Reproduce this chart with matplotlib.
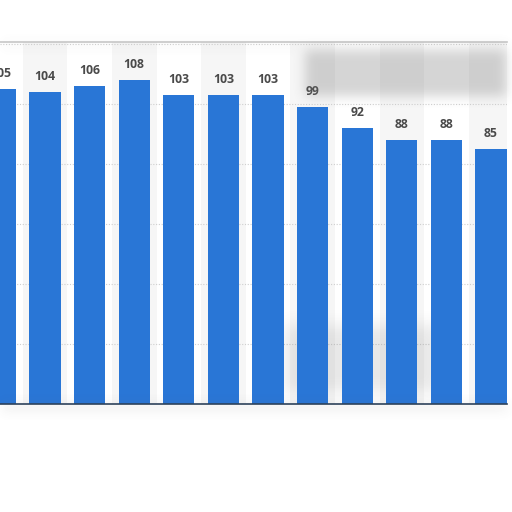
import numpy as np
import matplotlib
matplotlib.use("Agg")
import matplotlib.pyplot as plt

# values (first bar is cut at the left edge)
values = [105, 104, 106, 108, 103, 103, 103, 99, 92, 88, 88, 85]
labels = [str(v) for v in values]
grid_ticks = [20, 40, 60, 80, 100, 120]

bar_color = '#2976d6'
W = H = 512

fig = plt.figure(figsize=(5.12, 5.12), dpi=100)
fig.patch.set_facecolor('white')

# axes placed in pixel coordinates of the picture
ax_left, ax_right, ax_bottom, ax_top = 0, 507, 512 - 404, 512 - 42
ax = fig.add_axes([ax_left / W, ax_bottom / H, (ax_right - ax_left) / W, (ax_top - ax_bottom) / H])

pitch = 44.6
x0 = -0.4 / pitch
x1 = x0 + (ax_right - ax_left) / pitch
y1 = (ax_top - ax_bottom) / 3.0
x = np.arange(len(values))

# alternating column bands
for i in x:
    if i % 2 == 1:
        ax.axvspan(i - 0.5, i + 0.5, color='#f6f6f6', zorder=0, lw=0)

for g in grid_ticks:
    ax.axhline(g, color='#cfcfcf', lw=0.8, ls=(0, (1, 1.5)), zorder=1)

ax.bar(x, values, width=0.7, color=bar_color, zorder=2)
for xi, v, lab in zip(x, values, labels):
    ax.annotate(lab, (xi, v), xytext=(0, 6.5), textcoords='offset points',
                ha='center', va='bottom', fontsize=8.8, fontweight='bold',
                color='#4a4a4a', family=['Open Sans', 'DejaVu Sans'])

ax.set_xticks([])
ax.set_yticks([])
for s in ['left', 'right']:
    ax.spines[s].set_visible(False)
ax.spines['top'].set_color('#c8c8c8')
ax.spines['top'].set_linewidth(1.2)
ax.spines['bottom'].set_color('#2a3f5a')
ax.spines['bottom'].set_linewidth(1.2)


def blur(a, r):
    k = np.ones(2 * r + 1) / (2 * r + 1)
    for _ in range(3):
        a = np.apply_along_axis(lambda m: np.convolve(m, k, mode='same'), 0, a)
        a = np.apply_along_axis(lambda m: np.convolve(m, k, mode='same'), 1, a)
    return a


def grey_layer(alpha, level):
    rgba = np.zeros((H, W, 4))
    rgba[..., :3] = level
    rgba[..., 3] = np.clip(alpha, 0, 1)
    return rgba


# soft grey shadow in the lower gaps, behind the bars
soft = np.zeros((H, W))
soft[325:392, 285:440] = 0.16
ax.imshow(grey_layer(blur(soft, 7), 0.45),
          extent=[x0, x0 + W / pitch, (404 - H) / 3.0, 404 / 3.0],
          interpolation='bilinear', zorder=1.5, aspect='auto')
ax.set_xlim(x0, x1)
ax.set_ylim(0, y1)

# blurred grey smudge and frame shadows on top of the chart
mask = np.zeros((H, W))
mask[50:96, 305:506] = 0.30
mask[405:409, 0:508] = 0.22
mask[43:46, 0:508] = 0.10
alpha = blur(mask, 5)

ov = fig.add_axes([0, 0, 1, 1], zorder=5)
ov.imshow(grey_layer(alpha, 0.45), extent=[0, W, H, 0], interpolation='bilinear')
ov.set_xlim(0, W)
ov.set_ylim(H, 0)
ov.axis('off')

fig.savefig('out.png', dpi=100)
